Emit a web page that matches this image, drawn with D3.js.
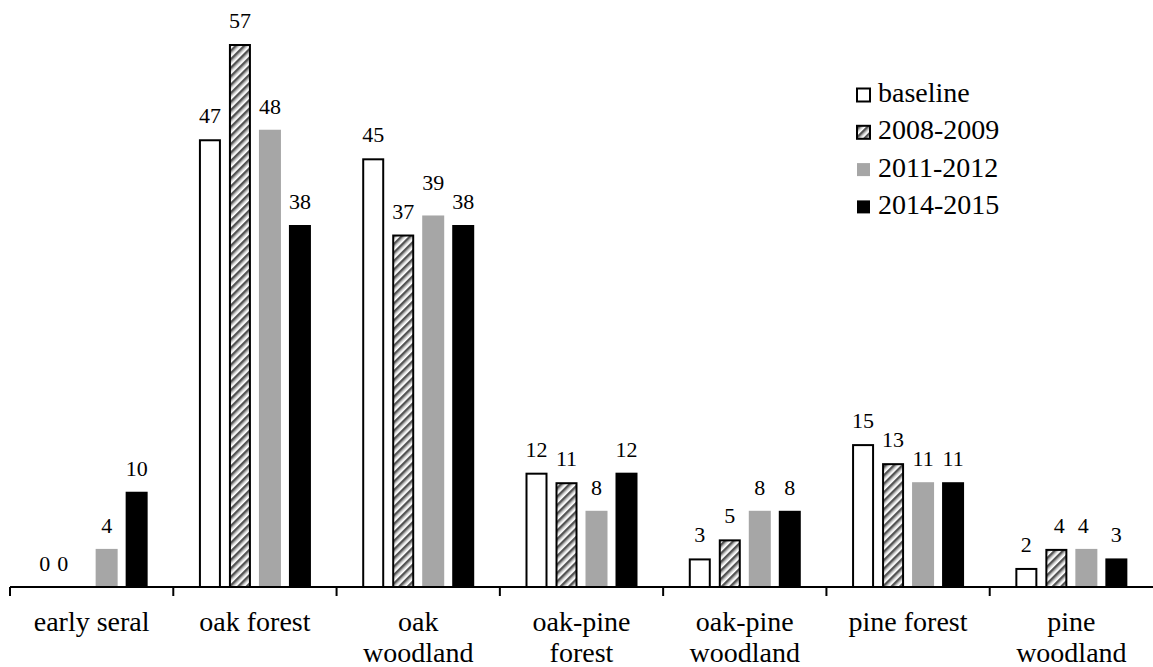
<!DOCTYPE html>
<html><head><meta charset="utf-8">
<script src="https://cdn.jsdelivr.net/npm/d3@7"></script>
<style>
body{margin:0;background:#fff}
svg text, svg tspan{font-family:"Liberation Serif","Times New Roman",Tinos,serif !important}
</style>
</head><body><svg id="c" width="1153" height="667" style="display:block" font-family="Liberation Serif"></svg>
<script>
const categories = [["early seral"],["oak forest"],["oak","woodland"],["oak-pine","forest"],["oak-pine","woodland"],["pine forest"],["pine","woodland"]];
const seriesNames = ["baseline","2008-2009","2011-2012","2014-2015"];
const baseline = [0,47,45,12,3,15,2];
const s2008 = [0,57,37,11,5,13,4];
const s2011 = [4,48,39,8,8,11,4];
const s2014 = [10,38,38,12,8,11,3];
const series = [baseline, s2008, s2011, s2014];

const FONT = '"Liberation Serif", "Times New Roman", serif';
const svg = d3.select("#c");
const defs = svg.append("defs");
const pat = defs.append("pattern").attr("id","hatch").attr("patternUnits","userSpaceOnUse")
  .attr("width",6).attr("height",6).attr("patternTransform","rotate(-45)");
pat.append("rect").attr("width",6).attr("height",6).attr("fill","#fff");
pat.append("rect").attr("width",6).attr("height",2.6).attr("fill","#555");
pat.append("rect").attr("y",3.4).attr("width",6).attr("height",0.8).attr("fill","#aaa");

const fills = ["#fff","url(#hatch)","#a6a6a6","#000"];
const strokes = ["#000","#000","none","none"];

const x0 = d3.scaleBand().domain(d3.range(categories.length)).range([10,1153]).padding(0);
const groupW = 112;
const x1 = d3.scaleBand().domain(d3.range(4)).range([0,groupW]).paddingInner(8/30).paddingOuter(0);
const y = d3.scaleLinear().domain([0,57]).range([587,44]);

function txt(sel){ return sel.attr("font-family","Liberation Serif").style("font-family",FONT,"important"); }

series.forEach((vals,si)=>{
  vals.forEach((v,ci)=>{
    const bx = x0(ci) + (x0.bandwidth()-groupW)/2 + x1(si);
    const sw = strokes[si]!=="none";
    if (v>0) {
      svg.append("rect").attr("x",bx+(sw?1:0)).attr("y",y(v)+(sw?1:0))
        .attr("width",x1.bandwidth()-(sw?2:0))
        .attr("height",y(0)-y(v)-(sw?1:0))
        .attr("fill",fills[si]).attr("stroke",strokes[si]).attr("stroke-width",2);
    }
  });
});
series.forEach((vals,si)=>{
  vals.forEach((v,ci)=>{
    const bx = x0(ci) + (x0.bandwidth()-groupW)/2 + x1(si);
    let lx = bx + x1.bandwidth()/2;
    let dy = 16;
    if (ci===0 && v===0) lx += (si===0? -2 : -14);
    if (ci===6 && si===1) lx += 3;
    if (ci===6 && si===2) lx -= 3;
    if (ci===2 && si===2) dy = 25;
    txt(svg.append("text").attr("x",lx).attr("y",y(v)-dy)
      .attr("text-anchor","middle")).attr("font-size",22).text(v);
  });
});

// axis
svg.append("line").attr("x1",10).attr("x2",1153).attr("y1",587).attr("y2",587).attr("stroke","#000").attr("stroke-width",2);
d3.range(categories.length).forEach(i=>{
  const tx = x0(i);
  svg.append("line").attr("x1",tx).attr("x2",tx).attr("y1",587).attr("y2",596).attr("stroke","#000").attr("stroke-width",2);
  categories[i].forEach((line,li)=>{
    txt(svg.append("text").attr("x",tx+x0.bandwidth()/2).attr("y",631+li*31).attr("text-anchor","middle"))
      .attr("font-size",28).text(line);
  });
});

// legend
seriesNames.forEach((n,i)=>{
  const cy = 95 + i*37.3;
  svg.append("rect").attr("x",857).attr("y",cy-6.5).attr("width",13).attr("height",13)
    .attr("fill",fills[i]).attr("stroke",strokes[i]).attr("stroke-width",2);
  txt(svg.append("text").attr("x",878).attr("y",cy+7)).attr("font-size",28).text(n);
});
</script></body></html>
